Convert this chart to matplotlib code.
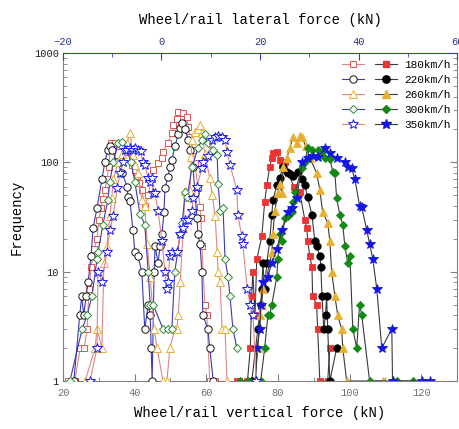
import matplotlib
matplotlib.use('Agg')
import matplotlib.pyplot as plt
from matplotlib.lines import Line2D
from matplotlib.legend_handler import HandlerTuple
from matplotlib.ticker import FixedLocator, MultipleLocator, FuncFormatter, LogLocator, NullFormatter

plt.rcParams['font.family'] = ['Liberation Mono', 'DejaVu Sans']

speeds = ['180km/h', '220km/h', '260km/h', '300km/h', '350km/h']

# Lateral force (top axis), open markers
lat_x_180 = [-19.0, -17.6, -16.5, -15.7, -15.1, -14.7, -14.3, -13.7, -13.1, -12.7, -12.3, -11.9, -11.5, -11.1, -10.7,
             -10.3, -9.4, -8.6, -8.0, -7.6, -7.0, -6.0, -5.4, -5.0, -4.6, -4.0, -3.4, -2.7, -1.7, -0.7,
             0.1, 0.3, 1.3, 2.1, 2.3, 3.1, 3.4, 4.4, 5.2, 5.4, 5.8, 6.4, 6.8, 7.4, 7.8, 8.0, 8.2, 8.8, 9.2, 9.8, 10.9]
lat_f_180 = [1, 1, 2, 2, 3, 7, 11, 16, 20, 30, 38, 46, 56, 70, 90,
             150, 150, 140, 145, 120, 110, 95, 85, 75, 65, 56, 40, 50, 85, 98,
             110, 125, 150, 185, 220, 250, 290, 285, 260, 210, 170, 130, 98, 58, 39, 31, 17, 5, 4, 1, 1]

lat_x_220 = [-17.8, -16.6, -16.2, -15.8, -15.3, -14.9, -14.3, -13.9, -13.1, -12.1, -11.5, -10.9, -10.5, -10.1, -9.0,
             -8.0, -7.0, -6.8, -6.4, -5.8, -5.4, -4.8, -4.0, -3.4, -2.7, -2.3, -2.1, -1.9, -1.5, -1.3,
             -0.7, -0.3, 0.1, 0.5, 0.7, 1.3, 1.7, 2.1, 2.7, 3.4, 3.8, 4.2, 4.8, 5.4, 5.8,
             6.4, 6.8, 7.2, 7.4, 7.8, 8.2, 8.4, 9.4, 9.8, 10.5]
lat_f_220 = [1, 4, 6, 4, 6, 8, 14, 25, 38, 70, 100, 130, 140, 130, 100,
             80, 60, 48, 44, 24, 15, 14, 10, 3, 5, 4, 2, 1, 10, 17,
             12, 17, 22, 35, 58, 73, 90, 105, 140, 180, 207, 230, 200, 160, 130,
             90, 52, 31, 22, 18, 10, 4, 3, 2, 1]

lat_x_260 = [-15.5, -13.5, -13.1, -12.1, -11.7, -11.1, -10.5, -10.1, -9.8, -8.8, -8.0, -7.0, -6.4, -5.8, -5.4,
             -4.8, -4.0, -3.4, -2.9, -2.3, -1.5, -0.9, 0.3, 1.1, 1.7, 2.7, 3.1, 3.4, 3.8, 4.4,
             4.8, 5.4, 5.8, 6.0, 6.2, 6.8, 7.4, 7.8, 8.2, 8.8, 9.8, 10.3, 10.9, 11.3, 11.5,
             11.9, 12.3, 12.9, 13.3]
lat_f_260 = [1, 2, 3, 2, 12, 17, 32, 47, 70, 100, 120, 150, 185, 117, 95,
             80, 45, 40, 18, 9, 3, 2, 1, 1, 2, 3, 3, 4, 8, 25,
             55, 48, 55, 112, 160, 190, 200, 220, 185, 120, 72, 50, 32, 15, 10,
             8, 3, 3, 1]

lat_x_300 = [-18.6, -16.1, -15.1, -14.1, -13.1, -12.9, -11.9, -10.9, -10.5, -9.8, -8.8, -8.0, -7.0, -6.2, -5.4,
             -4.4, -3.4, -2.7, -2.3, -1.7, 0.3, 1.3, 2.1, 2.7, 3.8, 4.2, 4.8, 5.2, 6.2, 7.4,
             8.2, 8.8, 9.4, 10.5, 11.3, 11.5, 11.9, 12.5, 12.9, 13.5, 13.9, 14.5, 15.3]
lat_f_300 = [1, 3, 4, 6, 13, 15, 27, 45, 66, 100, 150, 155, 130, 100, 66,
             34, 27, 10, 5, 5, 3, 3, 3, 10, 22, 28, 53, 48, 90, 135,
             160, 180, 150, 130, 117, 64, 36, 38, 13, 9, 6, 3, 2]

lat_x_350 = [-14.5, -13.1, -12.9, -12.1, -11.1, -10.5, -9.8, -9.0, -8.4, -7.8, -7.4, -7.0, -6.4, -5.8, -5.4,
             -4.8, -4.2, -3.8, -3.4, -2.7, -2.3, -1.9, -1.7, -1.3, -0.7, 0.1, 0.7, 1.1, 1.3, 1.7,
             2.1, 3.1, 3.8, 4.4, 4.8, 5.4, 6.2, 6.4, 7.2, 8.2, 8.4, 9.4, 10.3, 10.9, 11.5,
             12.3, 12.9, 13.3, 13.9, 15.3, 15.5, 16.3, 16.5, 17.4, 18.0, 18.6, 19.2]
lat_f_350 = [1, 2, 10, 8, 15, 24, 32, 58, 80, 100, 130, 130, 135, 130, 135,
             130, 128, 100, 95, 72, 66, 72, 52, 52, 36, 19, 10, 7, 8, 14,
             15, 15, 22, 25, 30, 30, 36, 47, 60, 88, 100, 115, 160, 170, 175,
             170, 160, 125, 95, 56, 33, 21, 18, 7, 5, 4, 1]

# Vertical force (bottom axis), filled markers
ver_x_180 = [68.5, 71.5, 72.3, 72.7, 73.0, 73.6, 74.1, 75.5, 76.3, 76.9, 77.7, 78.3, 78.6, 79.7, 80.5,
             81.1, 81.9, 82.8, 84.5, 86.1, 87.5, 88.1, 88.3, 88.9, 89.5, 89.7, 90.8, 91.1, 91.7, 93.9, 94.5]
ver_f_180 = [1, 1, 2, 6, 10, 4, 13, 21, 43, 62, 90, 110, 122, 125, 105,
             95, 100, 80, 60, 53, 30, 25, 19, 14, 11, 6, 5, 3, 1, 1, 2]

ver_x_220 = [72.7, 74.4, 75.2, 75.5, 75.8, 76.3, 76.9, 77.7, 78.3, 78.6, 79.7, 80.5, 81.4, 82.5, 83.3,
             84.2, 85.5, 86.6, 87.5, 88.3, 89.5, 90.3, 90.8, 91.7, 92.0, 92.3, 92.8, 93.3, 93.6, 93.9, 94.5, 96.4]
ver_f_220 = [1, 3, 5, 7, 12, 7, 12, 19, 33, 45, 62, 72, 90, 82, 78,
             75, 82, 70, 62, 48, 33, 19, 17, 14, 11, 6, 3, 4, 6, 3, 1, 2]

ver_x_260 = [73.6, 74.4, 75.0, 75.5, 75.8, 76.9, 78.3, 78.6, 79.1, 80.0, 80.5, 81.1, 81.4, 82.5, 83.3,
             84.2, 85.3, 86.1, 86.7, 87.8, 88.9, 90.8, 91.7, 92.5, 93.9, 94.5, 95.0, 95.9, 96.7, 97.8,
             98.1, 99.2, 109.3]
ver_f_260 = [1, 2, 4, 5, 7, 9, 15, 22, 36, 52, 64, 52, 90, 110, 135,
             170, 150, 175, 170, 140, 110, 80, 56, 35, 28, 19, 10, 6, 4, 3,
             2, 1, 1]

ver_x_300 = [69.4, 71.6, 75.2, 76.3, 77.2, 77.7, 78.3, 79.7, 80.0, 80.5, 81.1, 81.9, 82.8, 83.9, 84.2,
             84.7, 86.7, 87.5, 88.3, 89.5, 91.1, 92.2, 93.1, 94.5, 95.3, 95.9, 96.4, 97.3, 98.1, 98.7,
             99.5, 100.1, 100.9, 102.0, 102.8, 103.4, 105.6, 113.2, 117.6]
ver_f_300 = [1, 1, 1, 2, 4, 4, 5, 9, 13, 22, 19, 31, 32, 35, 43,
             53, 88, 100, 135, 130, 130, 125, 110, 108, 82, 80, 47, 33, 27, 17,
             12, 14, 3, 2, 5, 4, 1, 1, 1]

ver_x_350 = [73.8, 74.1, 75.0, 75.2, 75.8, 77.2, 78.3, 79.7, 81.1, 82.8, 83.9, 85.3, 86.7, 88.3, 89.7,
             91.1, 93.1, 94.5, 96.4, 98.7, 99.5, 100.6, 101.5, 102.8, 103.4, 104.8, 105.6, 106.5, 107.6, 109.0,
             111.8, 112.0, 120.1, 122.4]
ver_f_350 = [1, 2, 3, 5, 8, 9, 12, 16, 24, 35, 38, 47, 100, 110, 115,
             112, 135, 122, 110, 100, 90, 88, 70, 40, 39, 24, 18, 13, 7, 2,
             3, 1, 1, 1]

lat_x = [lat_x_180, lat_x_220, lat_x_260, lat_x_300, lat_x_350]
lat_f = [lat_f_180, lat_f_220, lat_f_260, lat_f_300, lat_f_350]
ver_x = [ver_x_180, ver_x_220, ver_x_260, ver_x_300, ver_x_350]
ver_f = [ver_f_180, ver_f_220, ver_f_260, ver_f_300, ver_f_350]

markers = ['s', 'o', '^', 'D', '*']
msizes = [4.8, 5.3, 5.8, 4.3, 7.2]
open_edge = ['#e05555', '#111111', '#e8b030', '#2e8b2e', '#1a1aee']
open_line = ['#e08585', '#3a3ab8', '#e08585', '#3a3ab8', '#e08585']
fill_col = ['#ee3333', '#000000', '#e8b030', '#148a14', '#1515e6']
fill_line = '#3a3a3a'

fig = plt.figure(figsize=(4.6, 4.29), dpi=100)
ax = fig.add_axes([63 / 460, 48 / 429, (457 - 63) / 460, (381 - 53) / 429])
ax.set_yscale('log')
ax.set_ylim(1, 1000)
ax.set_xlim(20, 130)
ax2 = ax.twiny()
ax2.set_xlim(-20, 60)

for i in range(5):
    ax.plot(ver_x[i], ver_f[i], color=fill_line, lw=0.8, marker=markers[i], ms=msizes[i],
            mfc=fill_col[i], mec=fill_col[i], mew=0.6)
for i in range(5):
    ax2.plot(lat_x[i], lat_f[i], color=open_line[i], lw=0.8, marker=markers[i], ms=msizes[i],
             mfc='white', mec=open_edge[i], mew=0.7)

gray = '#808080'
blue = '#3344bb'
for s in ['bottom', 'left', 'right']:
    ax.spines[s].set_color(gray)
ax.spines['top'].set_visible(False)
for s in ['bottom', 'left', 'right']:
    ax2.spines[s].set_visible(False)
ax2.spines['top'].set_color(blue)

ax.xaxis.set_major_locator(MultipleLocator(20))
ax.xaxis.set_minor_locator(MultipleLocator(10))
ax.yaxis.set_major_locator(FixedLocator([1, 10, 100, 1000]))
ax.yaxis.set_major_formatter(FuncFormatter(lambda v, p: f'{int(round(v))}'))
ax.yaxis.set_minor_locator(LogLocator(base=10, subs=range(2, 10)))
ax.yaxis.set_minor_formatter(NullFormatter())
ax.yaxis.set_ticks_position('both')
ax.xaxis.set_ticks_position('bottom')
ax.tick_params(axis='both', which='both', direction='in', color=gray, labelsize=7.5)
ax.tick_params(which='major', length=5)
ax.tick_params(which='minor', length=3)
ax.tick_params(axis='x', labelcolor='#707070', pad=5)
ax.tick_params(axis='y', labelcolor='#202020', pad=3)

ax2.xaxis.set_major_locator(MultipleLocator(20))
ax2.xaxis.set_minor_locator(MultipleLocator(10))
ax2.tick_params(axis='x', which='both', direction='in', color=blue, labelcolor='#2a3580', labelsize=7.5, pad=4)
ax2.tick_params(which='major', length=5)
ax2.tick_params(which='minor', length=3)

ax.set_xlabel('Wheel/rail vertical force (kN)', fontsize=10, labelpad=6)
ax2.set_xlabel('Wheel/rail lateral force (kN)', fontsize=10, labelpad=10)
ax.set_ylabel('Frequency', fontsize=10, labelpad=7)

handles = []
for i in range(5):
    h_open = Line2D([], [], color=open_line[i], lw=0.8, marker=markers[i], ms=msizes[i],
                    mfc='white', mec=open_edge[i], mew=0.7)
    h_fill = Line2D([], [], color=fill_line, lw=0.8, marker=markers[i], ms=msizes[i],
                    mfc=fill_col[i], mec=fill_col[i])
    handles.append((h_open, h_fill))
ax2.legend(handles, speeds, handler_map={tuple: HandlerTuple(ndivide=None, pad=1.0)},
           loc='upper right', frameon=False, fontsize=8, handlelength=5.0, handletextpad=0.6,
           labelspacing=0.45, borderaxespad=0.2)

fig.savefig('out.png', dpi=100)
